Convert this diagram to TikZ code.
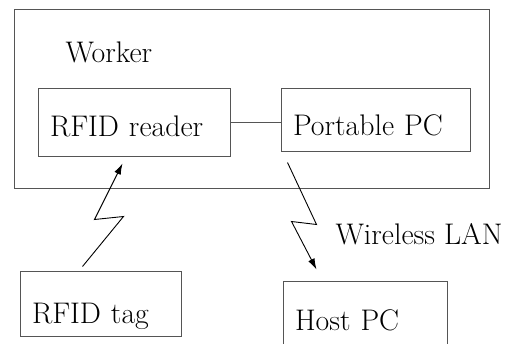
\documentclass[tikz,border=0pt]{standalone}
\usepackage{tikz}
\usetikzlibrary{arrows.meta}
\definecolor{edge}{RGB}{85, 85, 85}

\begin{document}
\begin{tikzpicture}[x=1pt, y=-1pt, line width=1pt,
    font=\fontsize{29.8}{34}\selectfont,
    box/.style={draw=edge, rectangle, inner xsep=12pt, align=left, text depth=0pt},
    radio/.style={-{Latex[length=11pt, width=7pt]}, line width=0.9pt}]
  \clip[use as bounding box] (0, 0) rectangle (510, 344);

  % worker frame
  \node[draw=edge, minimum width=475pt, minimum height=179pt] (worker) at (251.5, 99.5) {};
  \node[anchor=base west, inner sep=0pt] (workertxt) at (65, 63) {Worker};

  \node[box, text width=168pt, minimum height=68pt, text height=26.4pt] (reader) at (134, 123) {RFID reader};
  \node[box, text width=165pt, minimum height=63pt, text height=30.4pt] (pc) at (375.5, 120.5) {Portable PC};
  \node[box, text width=137pt, minimum height=65pt, text height=39.4pt] (tag) at (100.5, 303.5) {RFID tag};
  \node[box, text width=140pt, minimum height=68pt, text height=30.4pt] (host) at (365, 315) {Host PC};

  \draw[edge] (reader.east) -- (reader.east -| pc.west);

  \draw[radio] ([shift={(63,-4)}]tag.north west) -- ++(41,-50) -- ++(-29,3)
               -- ([shift={(85,6)}]reader.south west);
  \draw[radio] ([shift={(7,10)}]pc.south west) -- ++(29,62) -- ++(-25,-3)
               -- ([shift={(34,-11)}]host.north west);

  \node[anchor=base west, inner sep=0pt] (wlan) at (335, 244) {Wireless LAN};
\end{tikzpicture}
\end{document}
